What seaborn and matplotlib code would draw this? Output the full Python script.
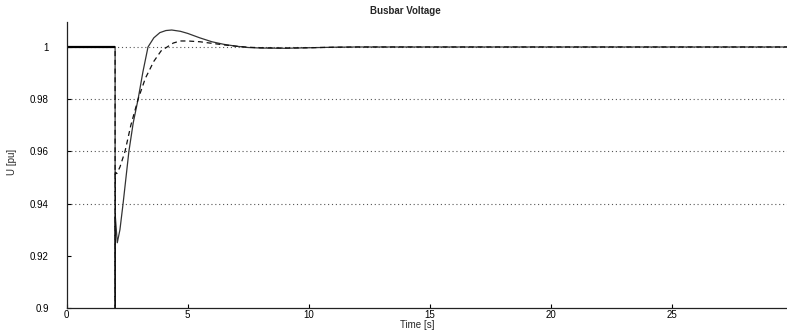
import matplotlib
matplotlib.use("Agg")
import matplotlib.pyplot as plt
import seaborn as sns
import numpy as np

# ---- data ----
t_solid = [0, 2.0, 2.0, 2.01, 2.01, 2.09, 2.2, 2.33, 2.45, 2.57, 2.75, 2.95, 3.15, 3.36, 3.6,
           3.85, 4.1, 4.34, 4.7, 5.0, 5.5, 6.0, 6.5, 7.0, 7.5, 8.0, 9.0, 10.0, 11.0, 12.0, 15.0, 20.0, 25.0, 30.0]
u_solid = [1.0, 1.0, 0.30, 0.30, 0.935, 0.925, 0.930, 0.940, 0.950, 0.960, 0.971, 0.980, 0.9905, 1.0, 1.0035,
           1.0055, 1.0063, 1.0065, 1.0060, 1.0052, 1.0035, 1.002, 1.001, 1.0003, 0.9998, 0.9996, 0.9995, 0.9997, 0.9999, 1.0, 1.0, 1.0, 1.0, 1.0]

t_dash = [0, 2.0, 2.0, 2.01, 2.01, 2.07, 2.2, 2.41, 2.65, 2.95, 3.25, 3.6, 3.9, 4.15, 4.4, 4.69,
          5.0, 5.5, 6.0, 6.5, 7.0, 7.5, 8.0, 9.0, 10.0, 11.0, 12.0, 15.0, 20.0, 25.0, 30.0]
u_dash = [1.0, 1.0, 0.30, 0.30, 0.952, 0.9515, 0.954, 0.960, 0.970, 0.980, 0.988, 0.9945, 0.9985, 1.0, 1.0015, 1.0023,
          1.0023, 1.002, 1.0014, 1.0008, 1.0003, 0.9999, 0.9997, 0.9996, 0.9997, 0.9999, 1.0, 1.0, 1.0, 1.0, 1.0]

grid_levels = [0.94, 0.96, 0.98, 1.0]
y_ticks = [0.9, 0.92, 0.94, 0.96, 0.98, 1.0]
y_tick_labels = ["0.9", "0.92", "0.94", "0.96", "0.98", "1"]
x_ticks = [0, 5, 10, 15, 20, 25, 30]
x_tick_labels = ["0", "5", "10", "15", "20", "25", "30"]

sns.set_theme(style="white")
plt.rcParams['font.family'] = ['Liberation Sans', 'DejaVu Sans']

fig = plt.figure(figsize=(7.87, 3.31), dpi=100)
ax = fig.add_axes([66.7 / 787, 1 - 308 / 331, 726 / 787, 286 / 331])

for g in grid_levels:
    ax.axhline(g, color="#555555", lw=0.8, ls=(0, (1, 2.5)), zorder=0)

sns.lineplot(x=t_solid, y=u_solid, sort=False, estimator=None, ax=ax,
             color="#333333", lw=0.9, ls="-")
sns.lineplot(x=t_dash, y=u_dash, sort=False, estimator=None, ax=ax,
             color="#111111", lw=0.9, ls=(0, (4, 3)))
ax.plot([0, 2.0], [1.0, 1.0], color="black", lw=1.6, solid_capstyle="butt")

ax.set_xlim(0, 30)
ax.set_ylim(0.9, 1.00957)
ax.set_xticks(x_ticks)
ax.set_xticklabels(x_tick_labels)
ax.set_yticks(y_ticks)
ax.set_yticklabels(y_tick_labels)
ax.tick_params(axis="both", direction="in", length=3, width=0.8, labelsize=7, colors="black",
               bottom=True, left=True)
ax.tick_params(axis="x", pad=1.5)
ax.tick_params(axis="y", pad=13)

for s in ["top", "right"]:
    ax.spines[s].set_visible(False)
for s in ["left", "bottom"]:
    ax.spines[s].set_color("#222222")
    ax.spines[s].set_linewidth(0.9)

ax.set_xlabel("Time [s]", fontsize=7, va="center")
ax.xaxis.set_label_coords(0.4825, -0.06)
ax.set_ylabel("U [pu]", fontsize=7, va="bottom")
ax.yaxis.set_label_coords(-0.068, 0.51)
ax.text(0.466, 1.038, "Busbar Voltage", transform=ax.transAxes, ha="center", va="center",
        fontsize=7, fontweight="bold")

fig.savefig("out.png", dpi=100)
